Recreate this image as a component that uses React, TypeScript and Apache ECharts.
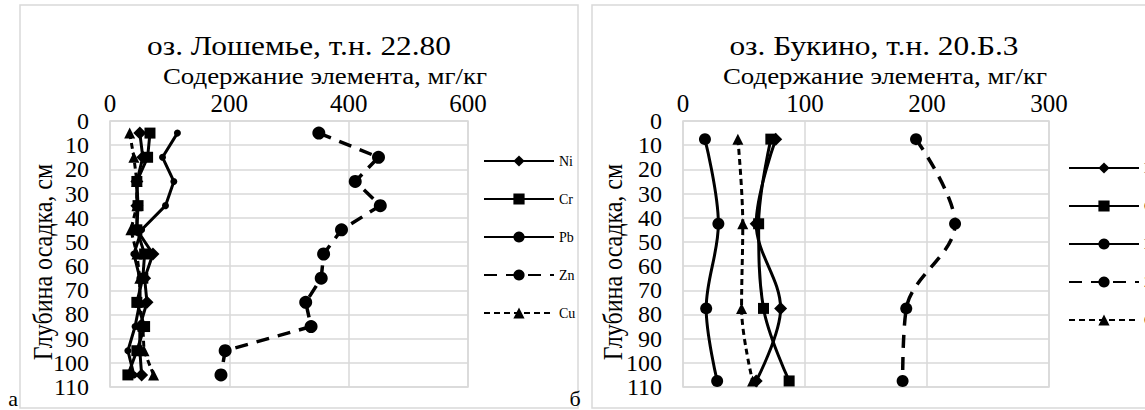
import React, { useEffect, useRef } from "react";
import * as echarts from "echarts";

const elements = ["Ni", "Cr", "Pb", "Zn", "Cu"];

// Left chart: оз. Лошемье
const depthsA = [5, 15, 25, 35, 45, 55, 65, 75, 85, 95, 105];
const niA = [50, 55, 45, 45, 45, 72, 58, 62, 50, 50, 53];
const crA = [67, 63, 45, 47, 45, 58, 55, 45, 58, 45, 30];
const pbA = [113, 88, 107, 93, 53, 40, 50, 50, 42, 30, 40];
const znA = [350, 450, 411, 453, 388, 358, 354, 328, 337, 193, 186];
const cuA = [33, 40, 45, 45, 35, 45, 50, 50, 55, 57, 73];

// Right chart: оз. Букино
const depthsB = [7.5, 42.5, 77.5, 107.5];
const niB = [76, 60, 80, 60];
const crB = [72, 62, 66, 87];
const pbB = [18, 29, 19, 28];
const znB = [191, 223, 183, 180];
const cuB = [45, 49, 48, 57];

const depthTicks = [0, 10, 20, 30, 40, 50, 60, 70, 80, 90, 100, 110];

const FONT = "'Liberation Serif', 'Times New Roman', 'DejaVu Serif', serif";
const GRID = "#d9d9d9";

type Style = { symbol: string; sizeA: number; sizeB: number; type: any; width: number };
const styles: Record<string, Style> = {
  Ni: { symbol: "diamond", sizeA: 13, sizeB: 13, type: "solid", width: 3 },
  Cr: { symbol: "rect", sizeA: 11, sizeB: 11, type: "solid", width: 3 },
  Pb: { symbol: "circle", sizeA: 7, sizeB: 12, type: "solid", width: 3 },
  Zn: { symbol: "circle", sizeA: 13, sizeB: 12, type: [13, 9], width: 3.5 },
  Cu: { symbol: "triangle", sizeA: 11, sizeB: 11, type: [6, 4], width: 3 },
};

const valuesA: Record<string, number[]> = { Ni: niA, Cr: crA, Pb: pbA, Zn: znA, Cu: cuA };
const valuesB: Record<string, number[]> = { Ni: niB, Cr: crB, Pb: pbB, Zn: znB, Cu: cuB };

export default function App() {
  const ref = useRef<HTMLDivElement>(null);
  useEffect(() => {
    if (!ref.current) return;
    const chart = echarts.init(ref.current, null, { renderer: "svg" });

    const makeX = (gridIndex: number, max: number, interval: number) => ({
      type: "value",
      gridIndex,
      position: "top",
      min: 0,
      max,
      interval,
      axisLine: { show: false },
      axisTick: { show: false },
      axisLabel: { fontSize: 25, fontFamily: FONT, color: "#000", margin: 5 },
      splitLine: { show: true, lineStyle: { color: GRID, width: 1.5 } },
    });
    const makeY = (gridIndex: number) => ({
      type: "value",
      gridIndex,
      inverse: true,
      min: depthTicks[0],
      max: depthTicks[depthTicks.length - 1],
      interval: 10,
      axisLine: { show: false },
      axisTick: { show: false },
      axisLabel: { fontSize: 24, fontFamily: FONT, color: "#000", margin: 21 },
      splitLine: { show: true, lineStyle: { color: GRID, width: 1.5 } },
    });

    const series: any[] = [];
    elements.forEach((el) => {
      const s = styles[el];
      series.push({
        name: el,
        type: "line",
        xAxisIndex: 0,
        yAxisIndex: 0,
        data: depthsA.map((d, i) => [valuesA[el][i], d]),
        symbol: s.symbol,
        symbolSize: s.sizeA,
        lineStyle: { color: "#000", width: s.width, type: s.type },
        itemStyle: { color: "#000" },
      });
    });
    elements.forEach((el) => {
      const s = styles[el];
      series.push({
        name: el,
        type: "line",
        xAxisIndex: 1,
        yAxisIndex: 1,
        smooth: 0.35,
        data: depthsB.map((d, i) => [valuesB[el][i], d]),
        symbol: s.symbol,
        symbolSize: s.sizeB,
        lineStyle: { color: "#000", width: s.width, type: s.type },
        itemStyle: { color: "#000" },
      });
    });

    const legendCommon = {
      orient: "vertical",
      itemWidth: 70,
      itemHeight: 14,
      itemGap: 24,
      selectedMode: false,
      data: elements,
      textStyle: { fontSize: 14, fontFamily: FONT, color: "#000", padding: [0, 0, 0, 0] },
    };

    const txt = (x: number, y: number, text: string, size: number, rotation = 0, sx = 1, sy = 1) => ({
      type: "text",
      x,
      y,
      rotation,
      scaleX: sx,
      scaleY: sy,
      style: {
        text,
        fontSize: size,
        fontFamily: FONT,
        fill: "#000",
        textAlign: "center",
        textVerticalAlign: "middle",
      },
    });

    chart.setOption({
      animation: false,
      backgroundColor: "#fff",
      grid: [
        { left: 110, top: 121, width: 358, height: 266, show: true, borderColor: GRID, borderWidth: 1.5 },
        { left: 683, top: 121, width: 366, height: 266, show: true, borderColor: GRID, borderWidth: 1.5 },
      ],
      xAxis: [makeX(0, 600, 200), makeX(1, 300, 100)],
      yAxis: [makeY(0), makeY(1)],
      legend: [
        { ...legendCommon, left: 478, top: 149 },
        { ...legendCommon, left: 1063, top: 156 },
      ],
      series,
      graphic: [
        {
          type: "rect",
          shape: { x: 20, y: 5, width: 558, height: 403 },
          style: { fill: "none", stroke: GRID, lineWidth: 1.5 },
          z: -1,
        },
        {
          type: "rect",
          shape: { x: 592, y: 5, width: 600, height: 403 },
          style: { fill: "none", stroke: GRID, lineWidth: 1.5 },
          z: -1,
        },
        txt(299, 46, "оз. Лошемье, т.н. 22.80", 28, 0, 1.12, 1),
        txt(325, 76, "Содержание элемента, мг/кг", 24, 0, 1.12, 1),
        txt(43, 262, "Глубина осадка, см", 24, Math.PI / 2, 1, 1.12),
        txt(874, 46, "оз. Букино, т.н. 20.Б.3", 28, 0, 1.12, 1),
        txt(885, 76, "Содержание элемента, мг/кг", 24, 0, 1.12, 1),
        txt(613, 262, "Глубина осадка, см", 24, Math.PI / 2, 1, 1.12),
        txt(13, 398, "а", 22),
        txt(575, 398, "б", 22),
      ],
    });
    return () => chart.dispose();
  }, []);
  return (
    <div
      ref={ref}
      style={{ position: "fixed", left: 0, top: 0, width: 1145, height: 410, background: "#fff" }}
    />
  );
}
